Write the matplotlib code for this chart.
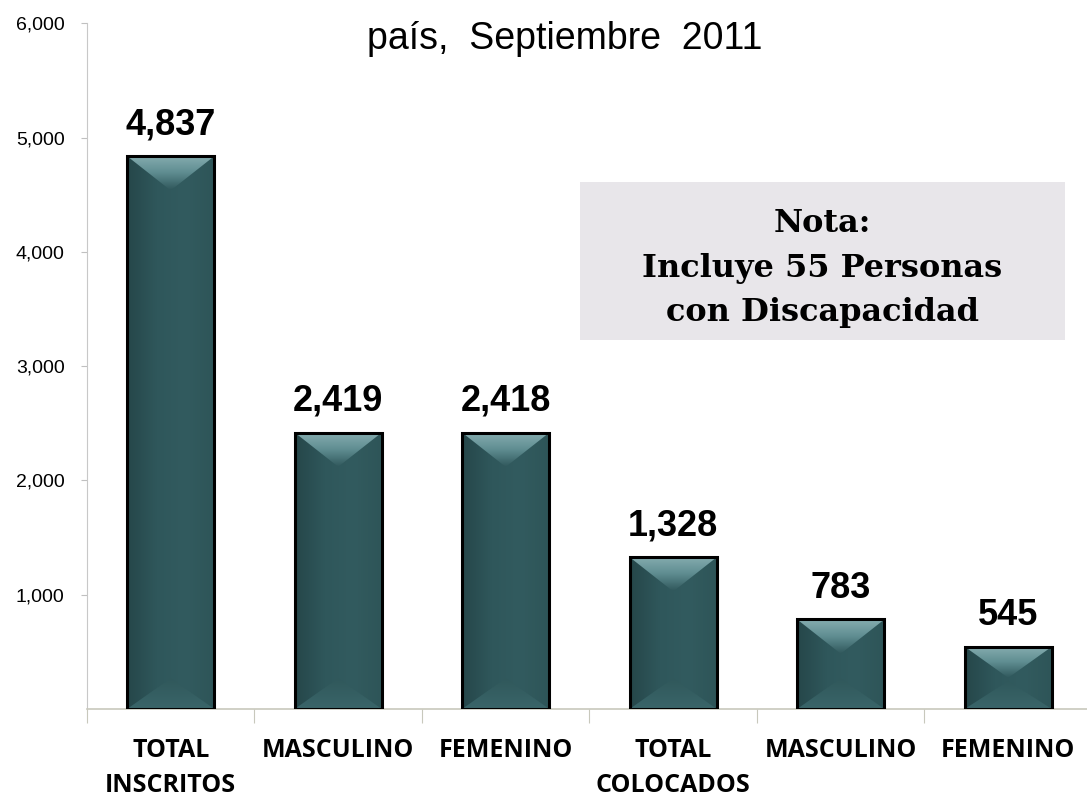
import numpy as np
import matplotlib.pyplot as plt
from matplotlib.patches import Polygon, Rectangle
from matplotlib.colors import LinearSegmentedColormap

categories = ["TOTAL\nINSCRITOS", "MASCULINO", "FEMENINO",
              "TOTAL\nCOLOCADOS", "MASCULINO", "FEMENINO"]
values = [4837, 2419, 2418, 1328, 783, 545]
yticks = [1000, 2000, 3000, 4000, 5000, 6000]
title = "país,  Septiembre  2011"
note = "Nota:\nIncluye 55 Personas\ncon Discapacidad"

fig = plt.figure(figsize=(10.87, 8.02), dpi=100)
ax = fig.add_axes([0.080, 0.116, 0.9246, 0.855])

x = np.arange(len(values))
w = 0.52
ax.set_xlim(-0.5, len(values) - 0.5)
ax.set_ylim(0, 6000)

body_cmap = LinearSegmentedColormap.from_list("body", ["#26474a", "#2f575b", "#325b5f", "#2e5558"])
top_cmap = LinearSegmentedColormap.from_list("top", ["#30585c", "#5f8d91", "#86adb0"])
bot_cmap = LinearSegmentedColormap.from_list("bot", ["#3a6569", "#30585b"])
hgrad = np.linspace(0, 1, 64).reshape(1, -1)
vgrad = np.linspace(0, 1, 64).reshape(-1, 1)

depth = 300
for xi, v in zip(x, values):
    d = min(depth, v / 2)
    l, r = xi - w / 2, xi + w / 2
    body = Rectangle((l, 0), w, v, transform=ax.transData)
    im = ax.imshow(hgrad, cmap=body_cmap, extent=[l, r, 0, v], aspect="auto",
                   origin="lower", zorder=2)
    im.set_clip_path(body)
    tri = Polygon([(l, v), (r, v), (xi, v - d)], closed=True, transform=ax.transData)
    im2 = ax.imshow(vgrad, cmap=top_cmap, extent=[l, r, v - d, v], aspect="auto",
                    origin="lower", zorder=3)
    im2.set_clip_path(tri)
    tri_b = Polygon([(l, 0), (r, 0), (xi, d * 0.9)], closed=True, transform=ax.transData)
    im3 = ax.imshow(vgrad, cmap=bot_cmap, extent=[l, r, 0, d * 0.9], aspect="auto",
                    origin="lower", zorder=3)
    im3.set_clip_path(tri_b)
    ax.bar(xi, v, width=w, facecolor="none", edgecolor="black", linewidth=2.2, zorder=4)
    ax.text(xi, v + 120, f"{v:,}", ha="center", va="bottom", fontsize=26,
            fontweight="bold", family="Liberation Sans", zorder=5)

ax.set_xlim(-0.5, len(values) - 0.5)
ax.set_ylim(0, 6000)
ax.set_yticks(yticks)
ax.set_yticklabels([f"{t:,}" for t in yticks], fontsize=14, family="Liberation Sans")
ax.set_xticks(np.arange(len(values) + 1) - 0.5)
ax.set_xticklabels([])
ax.tick_params(axis="x", length=10, color="#c8c8bc", direction="out")
ax.tick_params(axis="y", length=4.5, color="#c0c0c0", direction="out", pad=11.5)
for i, c in enumerate(categories):
    ax.text(i, -0.043, c, transform=ax.get_xaxis_transform(), ha="center", va="top",
            fontsize=18, fontweight="bold", family="Open Sans", linespacing=1.5)

for s in ["top", "right"]:
    ax.spines[s].set_visible(False)
ax.spines["left"].set_color("#c8c8c8")
ax.spines["bottom"].set_color("#c8c8bc")
ax.spines["bottom"].set_linewidth(1.2)

fig.text(0.52, 0.951, title, ha="center", va="center", fontsize=27, family="Liberation Sans")

fig.patches.append(plt.Rectangle((580 / 1087, 1 - 340 / 802), 485 / 1087, 158 / 802,
                                 transform=fig.transFigure, facecolor="#e8e6ea",
                                 edgecolor="none", zorder=5))
fig.text(822 / 1087, 1 - 268 / 802, note, ha="center", va="center", fontsize=23,
         fontweight="bold", family="DejaVu Serif", linespacing=1.58, zorder=6)

fig.savefig("out.png", dpi=100)
